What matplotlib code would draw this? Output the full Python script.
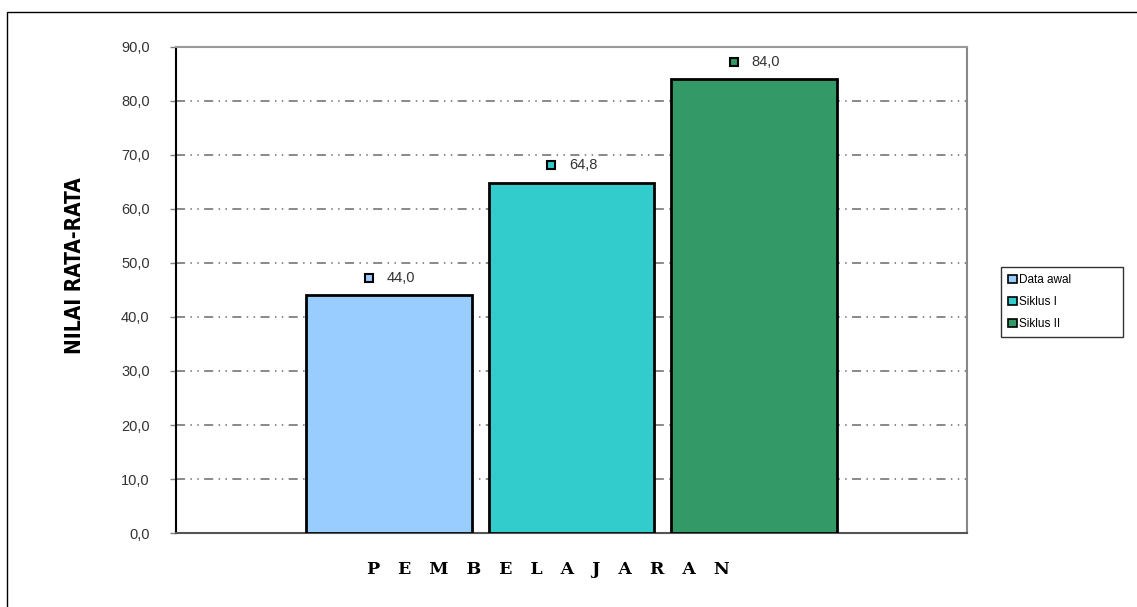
import matplotlib

matplotlib.use("Agg")
import matplotlib.pyplot as plt
from matplotlib.patches import Rectangle

series = ["Data awal", "Siklus I", "Siklus II"]
values = [44.0, 64.8, 84.0]
colors = ["#99CCFF", "#33CCCC", "#339966"]
yticks = [0, 10, 20, 30, 40, 50, 60, 70, 80, 90]

plt.rcParams["font.family"] = ["Liberation Sans", "DejaVu Sans"]

fig = plt.figure(figsize=(11.37, 6.07), dpi=100)
ax = fig.add_axes([0.1548, 0.1219, 0.6957, 0.8007])

# outer frame of the chart object (left and top edges visible)
fig.patches.append(Rectangle((7 / 1137, -0.1), 1.2, 0.1 + (1 - 12 / 607),
                             transform=fig.transFigure, fill=False,
                             edgecolor="black", linewidth=1.0))

xpos = [-1, 0, 1]
for x, v, c, name in zip(xpos, values, colors, series):
    ax.bar(x, v, width=0.91, color=c, edgecolor="black", linewidth=2, label=name, zorder=3)
    # data label: small colored square + value
    ax.plot(x - 0.11, v + 3.3, marker="s", markersize=6, markerfacecolor=c,
            markeredgecolor="black", markeredgewidth=1.5, zorder=4, clip_on=False)
    ax.text(x - 0.015, v + 3.3, f"{v:.1f}".replace(".", ","), ha="left", va="center",
            fontsize=10.5, color="#333333", zorder=4)

ax.set_xlim(-2.17, 2.17)
ax.set_ylim(0, 90)
ax.set_yticks(yticks)
ax.set_yticklabels([f"{t:.1f}".replace(".", ",") for t in yticks], fontsize=10.5, color="#333333")
ax.set_xticks([])
ax.tick_params(axis="y", length=4, width=1, color="#808080", pad=15)

ax.yaxis.grid(True, color="#808080", linewidth=1.3, linestyle=(0, (5, 3, 0.8, 3, 0.8, 3)), zorder=0)
ax.set_axisbelow(True)

ax.spines["left"].set_color("black")
ax.spines["left"].set_linewidth(1.5)
ax.spines["bottom"].set_color("#555555")
ax.spines["bottom"].set_linewidth(1.5)
ax.spines["top"].set_color("#999999")
ax.spines["top"].set_linewidth(1.5)
ax.spines["right"].set_color("#888888")
ax.spines["right"].set_linewidth(1.5)

fig.text(0.066, 0.563, "NILAI RATA-RATA", rotation=90, ha="center", va="center",
         fontsize=15, fontweight="bold", family=["Liberation Sans Narrow", "DejaVu Sans"],
         fontstretch="condensed")
fig.text(0.482, 0.061, "P   E   M   B   E   L   A   J   A   R   A   N", ha="center", va="center",
         fontsize=12.5, fontweight="heavy", family=["DejaVu Serif"])

leg = fig.legend(loc="upper left", bbox_to_anchor=(0.880, 0.443, 0.108, 0.117), mode="expand",
                 fontsize=8.5, frameon=True, fancybox=False, edgecolor="black", handlelength=0.8,
                 handleheight=0.7, handletextpad=0.2, borderpad=0.6, labelspacing=0.85,
                 borderaxespad=0)
leg.get_frame().set_linewidth(1.0)
for h in leg.legend_handles:
    h.set_linewidth(1.2)

fig.savefig("out.png", dpi=100)
